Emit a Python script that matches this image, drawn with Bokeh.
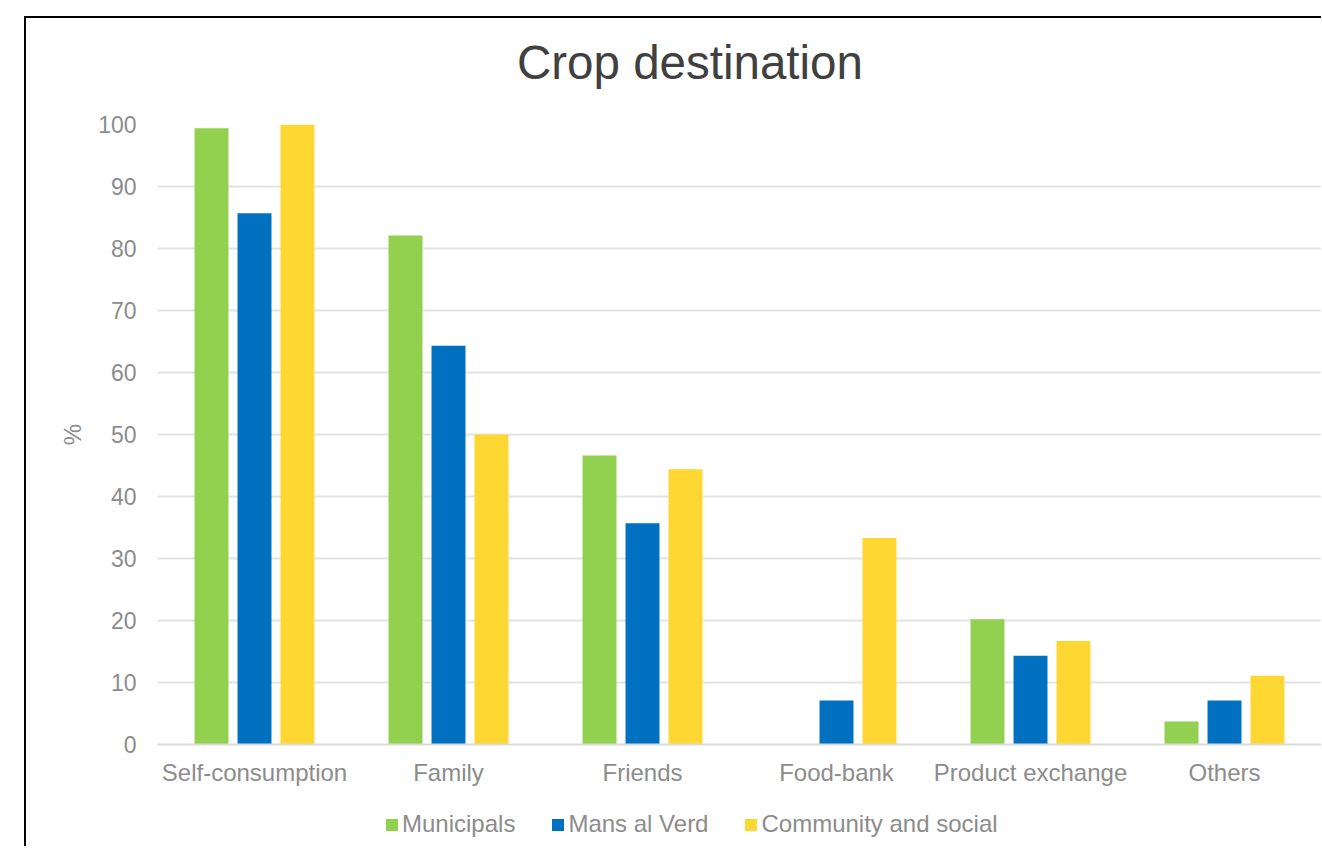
from bokeh.plotting import figure
from bokeh.layouts import column
from bokeh.models import (FactorRange, Range1d, FixedTicker, Legend, LegendItem,
                          Div, ColumnDataSource)
from bokeh.transform import dodge
from bokeh.embed import file_html
from bokeh.resources import INLINE

# ---- data ----
categories = ["Self-consumption", "Family", "Friends", "Food-bank", "Product exchange", "Others"]
series_names = ["Municipals", "Mans al Verd", "Community and social"]
municipals = [99.4, 82.1, 46.6, 0.0, 20.2, 3.7]
mans_al_verd = [85.7, 64.3, 35.7, 7.1, 14.3, 7.1]
community_social = [100.0, 50.0, 44.4, 33.3, 16.7, 11.1]
y_ticks = [0, 10, 20, 30, 40, 50, 60, 70, 80, 90, 100]
title_text = "Crop destination"
y_label = "%"

colors = ["#92D050", "#0070C0", "#FFD732"]
FONT = "Liberation Sans"
GRAY = "#8C8C8C"

source = ColumnDataSource(dict(cat=categories, m=municipals, v=mans_al_verd, c=community_social))
fields = ["m", "v", "c"]

# ---- title strip ----
title_div = Div(text=title_text, width=1295, height=88, margin=(0, 0, 0, 0),
                styles={"font-family": "'Liberation Sans', Arial, sans-serif",
                        "font-size": "47.5px", "color": "#404040", "line-height": "54px",
                        "padding-left": "491px", "padding-top": "18px",
                        "box-sizing": "border-box", "white-space": "nowrap"})

# ---- main chart ----
p = figure(
    x_range=FactorRange(*categories, range_padding=0),
    y_range=Range1d(0, 100),
    width=1295, height=694,
    output_backend="svg", toolbar_location=None,
    min_border_left=131, min_border_right=0, min_border_top=18, min_border_bottom=56,
)
p.outline_line_color = None
p.background_fill_color = "white"
p.border_fill_color = "white"

offsets = [-0.2216, 0.0, 0.2216]
for off, f, col in zip(offsets, fields, colors):
    p.vbar(x=dodge("cat", off, range=p.x_range), top=f, width=0.175,
           source=source, fill_color=col, line_color=None)

p.xgrid.grid_line_color = None
p.ygrid.grid_line_color = "#E3E3E3"
p.ygrid.grid_line_width = 2
p.yaxis.ticker = FixedTicker(ticks=y_ticks)
p.yaxis.axis_line_color = None
p.yaxis.major_tick_line_color = None
p.yaxis.minor_tick_line_color = None
p.yaxis.major_tick_out = 0
p.yaxis.major_label_standoff = 21
p.yaxis.major_label_text_font = FONT
p.yaxis.major_label_text_font_size = "23px"
p.yaxis.major_label_text_color = GRAY
p.yaxis.axis_label = y_label
p.yaxis.axis_label_text_font = FONT
p.yaxis.axis_label_text_font_size = "24px"
p.yaxis.axis_label_text_font_style = "normal"
p.yaxis.axis_label_text_color = GRAY
p.yaxis.axis_label_standoff = 9

p.xaxis.axis_line_color = "#D9D9D9"
p.xaxis.axis_line_width = 2
p.xaxis.major_tick_line_color = None
p.xaxis.minor_tick_line_color = None
p.xaxis.major_tick_out = 0
p.xaxis.major_label_standoff = 14
p.xaxis.major_label_text_font = FONT
p.xaxis.major_label_text_font_size = "24px"
p.xaxis.major_label_text_color = GRAY

# ---- legend strip ----
lf = figure(width=1295, height=46, x_range=FactorRange(*categories, range_padding=0),
            y_range=Range1d(0, 1),
            x_axis_location=None, y_axis_location=None,
            output_backend="svg", toolbar_location=None,
            min_border_left=0, min_border_right=0, min_border_top=0, min_border_bottom=0)
lf.outline_line_color = None
lf.grid.visible = False
lf.background_fill_color = "white"
lf.border_fill_color = "white"
leg_renderers = [lf.vbar(x="cat", top=f, width=0.175, source=source,
                         fill_color=col, line_color=None, visible=False)
                 for f, col in zip(fields, colors)]
items = [LegendItem(label=n, renderers=[r]) for n, r in zip(series_names, leg_renderers)]
legend = Legend(items=items, orientation="horizontal", location=(227, 8),
                glyph_width=15, glyph_height=15, label_standoff=3, spacing=35,
                padding=0, margin=0, border_line_color=None, background_fill_alpha=0,
                label_text_font=FONT, label_text_font_size="24px",
                label_text_color=GRAY, label_height=24)
lf.add_layout(legend, "center")

layout = column(title_div, p, lf, spacing=0,
                styles={"margin-left": "24px", "margin-top": "16px",
                        "border-left": "2px solid #000000", "border-top": "2px solid #000000"})

open("out.html", "w").write(file_html(layout, INLINE))
